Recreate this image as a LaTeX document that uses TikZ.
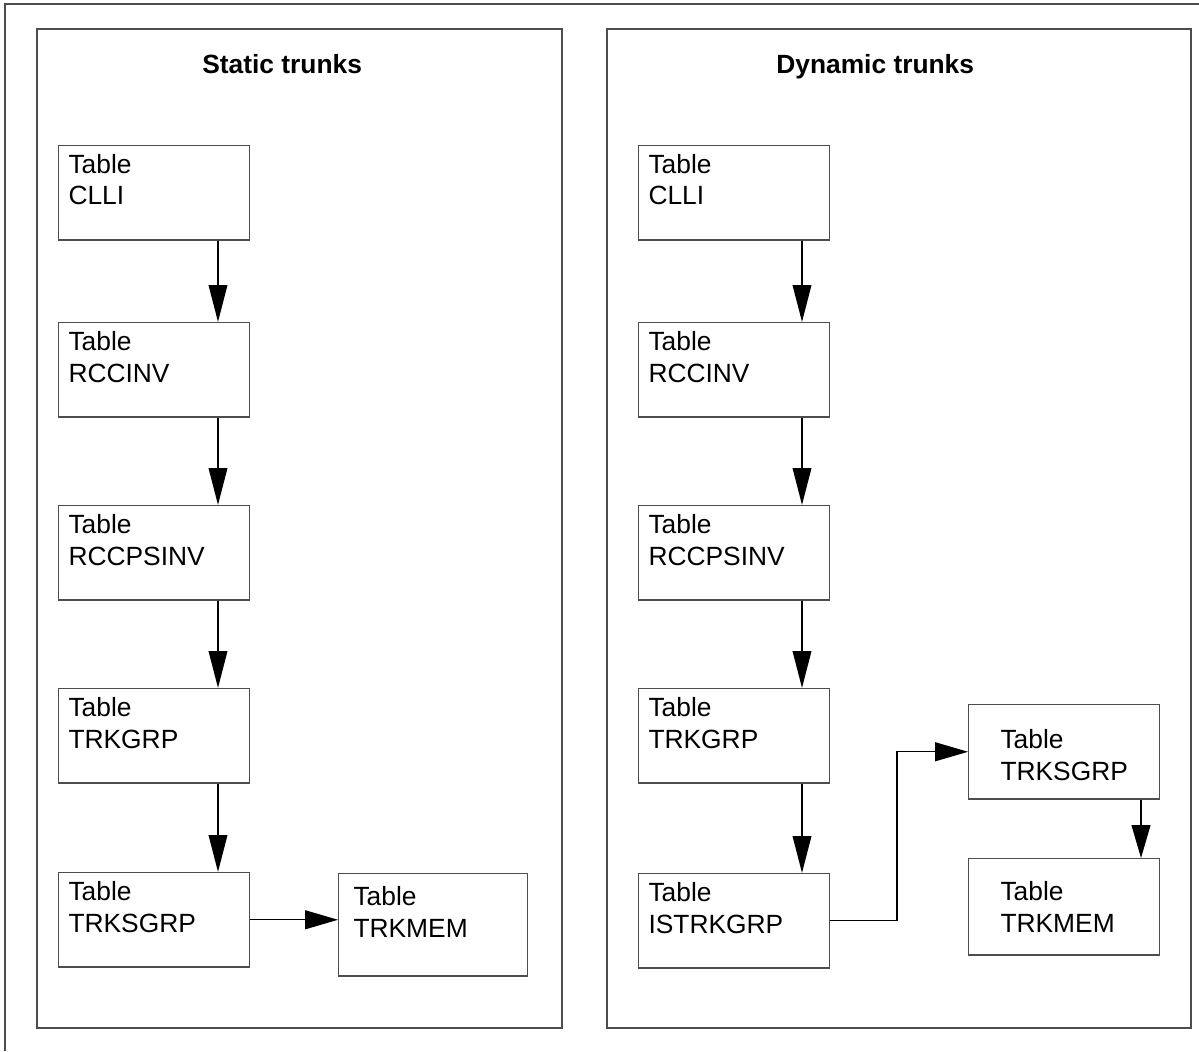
\documentclass[tikz,border=0pt]{standalone}
\usepackage{fontspec}
\setmainfont{Liberation Sans}
\usetikzlibrary{arrows.meta,positioning}
\definecolor{framegray}{HTML}{4D4D4D}
\newcommand{\tblfont}{\fontsize{15}{18.2}\selectfont}

\begin{document}
\begin{tikzpicture}[x=0.02cm,y=-0.02cm,
  tbl/.style={draw=framegray,line width=0.6pt,anchor=north west,align=left,
    font=\tblfont,inner xsep=0.2cm,inner ysep=0.17cm,text width=3.42cm,
    text height=0.38cm,text depth=1.17cm},
  paneltitle/.style={anchor=base west,inner sep=0pt,font=\tblfont\bfseries},
  flow/.style={draw=black,line width=1.2pt,-{Triangle[length=0.74cm,width=0.37cm]}},
  link/.style={draw=black,line width=0.6pt,-{Triangle[length=0.66cm,width=0.38cm]}}]
\useasboundingbox (0,0) rectangle (1199,1051);

% outer frame and the two panels
\draw[framegray,line width=0.7pt] (5,1051) |- (1199,4);
\draw[framegray,line width=0.7pt] (37,29) rectangle (562,1028);
\draw[framegray,line width=0.7pt] (607,29) rectangle (1191,1028);
\node[paneltitle] (titleS) at (202,73) {Static trunks};
\node[paneltitle] (titleD) at (776,73) {Dynamic trunks};

% static trunks
\node[tbl] (clliS) at (58,145) {Table\\CLLI};
\node[tbl] (rccinvS) at (58,322) {Table\\RCCINV};
\node[tbl] (rccpsinvS) at (58,505) {Table\\RCCPSINV};
\node[tbl] (trkgrpS) at (58,688) {Table\\TRKGRP};
\node[tbl] (trksgrpS) at (58,872) {Table\\TRKSGRP};
\node[tbl,inner xsep=0.3cm,inner ysep=0.25cm,text width=3.18cm] (trkmemS) at (338,873) {Table\\TRKMEM};

% dynamic trunks
\node[tbl] (clliD) at (638,145) {Table\\CLLI};
\node[tbl] (rccinvD) at (638,322) {Table\\RCCINV};
\node[tbl] (rccpsinvD) at (638,505) {Table\\RCCPSINV};
\node[tbl] (trkgrpD) at (638,688) {Table\\TRKGRP};
\node[tbl] (istrkgrpD) at (638,873) {Table\\ISTRKGRP};
\node[tbl,inner xsep=0.64cm,inner ysep=0.49cm,text width=2.54cm,text depth=0.53cm] (trksgrpD) at (968,704) {Table\\TRKSGRP};
\node[tbl,inner xsep=0.64cm,inner ysep=0.45cm,text width=2.54cm,text depth=0.65cm] (trkmemD) at (968,858) {Table\\TRKMEM};

\coordinate (laneS) at (218,0);
\coordinate (laneD) at (802,0);
\coordinate (laneX) at (1141,0);
\coordinate (bend) at (897,0);

\draw[flow] (clliS.south -| laneS) -- (rccinvS.north -| laneS);
\draw[flow] (rccinvS.south -| laneS) -- (rccpsinvS.north -| laneS);
\draw[flow] (rccpsinvS.south -| laneS) -- (trkgrpS.north -| laneS);
\draw[flow] (trkgrpS.south -| laneS) -- (trksgrpS.north -| laneS);
\draw[link] (trksgrpS.east) -- (trksgrpS.east -| trkmemS.west);

\draw[flow] (clliD.south -| laneD) -- (rccinvD.north -| laneD);
\draw[flow] (rccinvD.south -| laneD) -- (rccpsinvD.north -| laneD);
\draw[flow] (rccpsinvD.south -| laneD) -- (trkgrpD.north -| laneD);
\draw[flow] (trkgrpD.south -| laneD) -- (istrkgrpD.north -| laneD);
\draw[link] (istrkgrpD.east) -- (istrkgrpD.east -| bend) -- (bend |- trksgrpD.west) -- (trksgrpD.west);
\draw[link] (trksgrpD.south -| laneX) -- (trkmemD.north -| laneX);
\end{tikzpicture}
\end{document}
